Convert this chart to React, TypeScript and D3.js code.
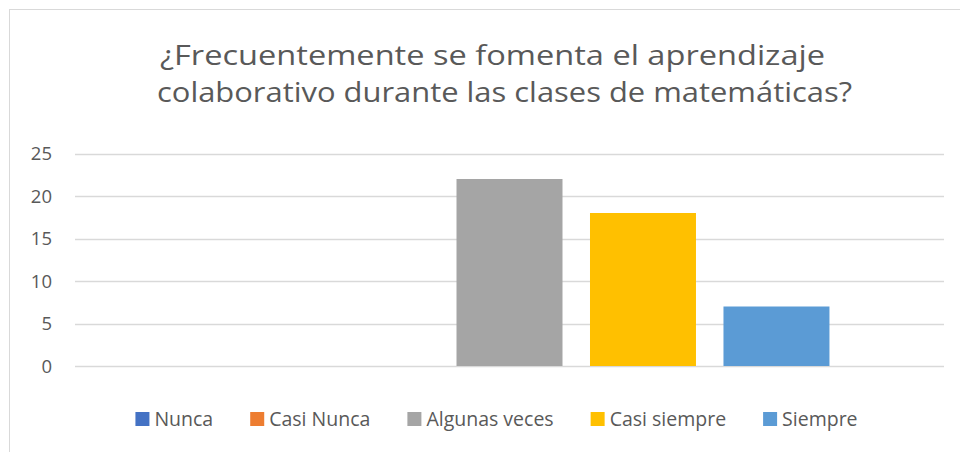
import { scaleBand, scaleLinear, select } from "d3";
import React, { useEffect, useRef } from "react";

const width = 960;
const height = 452;

const titleLines = [
  "¿Frecuentemente se fomenta el aprendizaje",
  "colaborativo durante las clases de matemáticas?",
];
const series = ["Nunca", "Casi Nunca", "Algunas veces", "Casi siempre", "Siempre"];
const values = [0, 0, 22, 18, 7];
const colors = ["#4472c4", "#ed7d31", "#a5a5a5", "#ffc000", "#5b9bd5"];
const yTicks = [0, 5, 10, 15, 20, 25];

const font = "'Open Sans', 'Liberation Sans', sans-serif";
const textColor = "#595959";

const App = () => {
  const svgRef = useRef<SVGSVGElement>(null);

  const margin = { top: 153.5, right: 16, bottom: 86, left: 75 };

  const yScale = scaleLinear()
    .domain([0, 25])
    .range([height - margin.bottom, margin.top]);

  // one category holding five series (excel clustered column)
  const x0 = scaleBand()
    .domain(["cat"])
    .range([margin.left, width - margin.right])
    .paddingOuter(0.179);

  const x1 = scaleBand()
    .domain(series)
    .range([0, x0.bandwidth()])
    .paddingInner(0.206);

  useEffect(() => {
    document.body.style.margin = "0";
    const svg = select(svgRef.current);
    svg.selectAll("*").remove();

    // chart border
    svg
      .append("rect")
      .attr("x", 9.5)
      .attr("y", 9.5)
      .attr("width", 1000)
      .attr("height", 1000)
      .attr("fill", "#fff")
      .attr("stroke", "#d9d9d9");

    // title
    const titleLens = [665, 695];
    const titleX = [160, 157];
    svg
      .selectAll("text.title")
      .data(titleLines)
      .join("text")
      .attr("class", "title")
      .attr("x", (d, i) => titleX[i])
      .attr("y", (d, i) => 65 + i * 37)
      .attr("textLength", (d, i) => titleLens[i])
      .attr("lengthAdjust", "spacingAndGlyphs")
      .style("font-family", font)
      .style("font-size", "28px")
      .style("fill", textColor)
      .text((d) => d);

    // gridlines + ticks
    svg
      .selectAll("line.grid")
      .data(yTicks)
      .join("line")
      .attr("class", "grid")
      .attr("x1", margin.left)
      .attr("x2", width - margin.right)
      .attr("y1", (d) => Math.round(yScale(d)) + 0.5)
      .attr("y2", (d) => Math.round(yScale(d)) + 0.5)
      .attr("stroke", "#d9d9d9")
      .attr("stroke-width", 1.3);

    svg
      .selectAll("text.tick")
      .data(yTicks)
      .join("text")
      .attr("class", "tick")
      .attr("x", 52)
      .attr("y", (d) => yScale(d) + 6.5)
      .attr("text-anchor", "end")
      .style("font-family", font)
      .style("font-size", "18.5px")
      .style("fill", textColor)
      .text((d) => d);

    // bars
    svg
      .selectAll("rect.bar")
      .data(series)
      .join("rect")
      .attr("class", "bar")
      .attr("x", (d) => (x0("cat") ?? 0) + (x1(d) ?? 0))
      .attr("width", x1.bandwidth())
      .attr("y", (d, i) => yScale(values[i]))
      .attr("height", (d, i) => yScale(0) - yScale(values[i]))
      .attr("fill", (d, i) => colors[i]);

    // legend, laid out from measured text widths
    const legend = svg.append("g");
    const items = legend
      .selectAll("g")
      .data(series)
      .join("g");
    items
      .append("rect")
      .attr("width", 14)
      .attr("height", 14)
      .attr("y", 412)
      .attr("fill", (d, i) => colors[i]);
    const labels = items
      .append("text")
      .attr("x", 19)
      .attr("y", 425.5)
      .style("font-family", font)
      .style("font-size", "19.5px")
      .style("fill", textColor)
      .text((d) => d);

    const widths: number[] = [];
    labels.each(function () {
      widths.push((this as SVGTextElement).getComputedTextLength());
    });
    const gap = 37;
    const total =
      widths.reduce((a, w) => a + 19 + w, 0) + gap * (widths.length - 1);
    let cx = 496.5 - total / 2;
    items.each(function (d, i) {
      select(this).attr("transform", `translate(${cx},0)`);
      cx += 19 + widths[i] + gap;
    });
  }, []);

  return (
    <svg
      ref={svgRef}
      width={width}
      height={height}
      style={{ display: "block", background: "#fff" }}
    />
  );
};

export default App;
